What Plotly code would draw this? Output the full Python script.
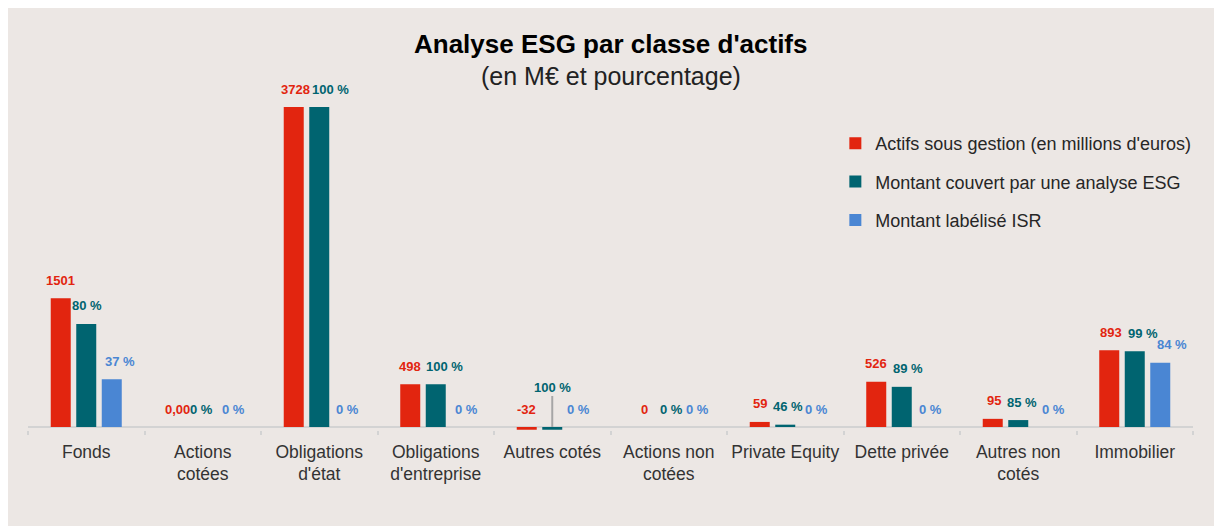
import plotly.graph_objects as go

categories = ["Fonds", "Actions<br>cotées", "Obligations<br>d'état", "Obligations<br>d'entreprise",
              "Autres cotés", "Actions non<br>cotées", "Private Equity", "Dette privée",
              "Autres non<br>cotés", "Immobilier"]
aum = [1501, 0, 3728, 498, -32, 0, 59, 526, 95, 893]
aum_labels = ["1501", "0,00", "3728", "498", "-32", "0", "59", "526", "95", "893"]
esg_pct = [80, 0, 100, 100, 100, 0, 46, 89, 85, 99]
isr_pct = [37, 0, 0, 0, 0, 0, 0, 0, 0, 84]

series_names = ["Actifs sous gestion (en millions d'euros)",
                "Montant couvert par une analyse ESG",
                "Montant labélisé ISR"]
colors = ["#e2250f", "#006470", "#4a86d3"]

# label nudges (px), styling only
red_nudge = [0, 0, 2, 0, 0, 1, 0, 0, 1, 2]
teal_nudge = [1, -1, 11, 9, 0, 3, 3, 6, 4, 8]
blue_nudge = [8, 5, 2, 5, 0, 3, 5, 3, 9, 11]
nudges = [red_nudge, teal_nudge, blue_nudge]

esg_amt = [a * p / 100 for a, p in zip(aum, esg_pct)]
isr_amt = [a * p / 100 for a, p in zip(aum, isr_pct)]
esg_labels = [f"{p} %" for p in esg_pct]
isr_labels = [f"{p} %" for p in isr_pct]

values = [aum, esg_amt, isr_amt]
labels = [aum_labels, esg_labels, isr_labels]

FONT = "Liberation Sans, Arial"

fig = go.Figure()
for i in range(3):
    fig.add_trace(go.Bar(
        x=categories, y=values[i], name=series_names[i],
        marker=dict(color=colors[i], line=dict(width=0)),
        legendgroup=f"g{i}", hoverinfo="skip"))

annotations = []
shifts = [-25.5, 0, 26]
for i in range(3):
    for j, cat in enumerate(categories):
        v = values[i][j]
        base = dict(x=cat, text=labels[i][j], xref="x", yref="y",
                    font=dict(family=FONT, size=13, color=colors[i], weight="bold"))
        if i == 1 and aum[j] < 0:
            annotations.append(dict(base, y=0, xshift=shifts[i], showarrow=True, arrowhead=0,
                                    arrowcolor="#a6a6a6", arrowwidth=2, ax=0, ay=-40, standoff=0))
        else:
            annotations.append(dict(base, y=max(v, 0), xshift=shifts[i] + nudges[i][j],
                                    yshift=18, showarrow=False, yanchor="middle"))

annotations.append(dict(x=0.5, y=1.0432, xref="paper", yref="paper", showarrow=False,
                        text="<b>Analyse ESG par classe d'actifs</b>", yanchor="middle",
                        font=dict(family=FONT, size=26, color="#000000")))
annotations.append(dict(x=0.5, y=0.9568, xref="paper", yref="paper", showarrow=False,
                        text="(en M€ et pourcentage)", yanchor="middle",
                        font=dict(family=FONT, size=25, color="#222222")))

fig.update_layout(
    width=1222, height=526,
    margin=dict(l=20, r=37, t=52, b=104),
    paper_bgcolor="#ece7e4", plot_bgcolor="rgba(0,0,0,0)",
    barmode="group", bargap=0.343, bargroupgap=0.216,
    showlegend=True,
    legend=dict(x=0.693, y=0.8243, xanchor="left", yanchor="top", bgcolor="rgba(0,0,0,0)",
                font=dict(family=FONT, size=18, color="#262626"),
                tracegroupgap=12, itemwidth=30),
    annotations=annotations,
    xaxis=dict(showline=False, ticks="outside",
               tickson="boundaries", ticklen=4, tickcolor="#d3d3d3", tickwidth=1.5,
               tickangle=0, ticklabelstandoff=9, automargin=False,
               tickfont=dict(family=FONT, size=17.5, color="#333333"),
               showgrid=False, zeroline=False, fixedrange=True),
    yaxis=dict(range=[-35, 4277], visible=True, showticklabels=False, ticks="",
               showgrid=False, showline=False,
               zeroline=True, zerolinecolor="#d3d3d3", zerolinewidth=2),
)

fig.write_html("out.html")
